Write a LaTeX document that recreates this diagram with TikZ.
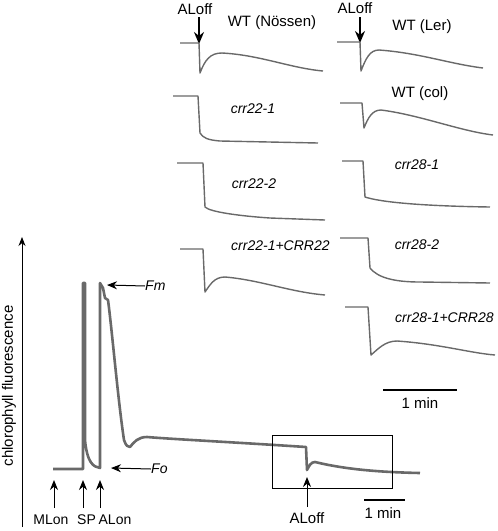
\documentclass[tikz,border=0pt]{standalone}
\usepackage{fontspec}
\setmainfont{Liberation Sans}
\usetikzlibrary{arrows.meta}
\definecolor{tracegray}{RGB}{105,105,105}

\begin{document}
\begin{tikzpicture}[x=1pt,y=1pt,
  every node/.style={inner sep=0pt, font=\fontsize{15}{17}\selectfont},
  it/.style={font=\fontsize{14}{16}\selectfont\itshape},
  small/.style={font=\fontsize{14}{16}\selectfont},
  trace/.style={tracegray, line width=2.6pt, line join=round},
  panel/.style={tracegray, line width=1.4pt, line join=round},
  marker/.style={black, line width=1pt, -{Stealth[length=10pt,width=8pt]}},
  bigmarker/.style={black, line width=1.8pt, -{Stealth[length=12pt,width=10pt]}},
  scalebar/.style={black, line width=2.6pt}]
\useasboundingbox (0,0) rectangle (498,-531);
% axis
\coordinate (axbot) at (22,-527);
\coordinate (axtop) at (22,-237);
\draw [black, line width=0.9pt, -{Stealth[length=9pt,width=7pt]}] (axbot) -- (axtop);
\node (ylab) [rotate=90] at (9,-386) {chlorophyll fluorescence};
% main trace
\draw [trace] (53,-469) -- (83,-469) -- (83,-283) -- (85,-283) -- (85,-440)
  .. controls (87,-462) and (93,-467) .. (100,-468) -- (100,-283) -- (103,-288)
  -- (105,-298) -- (108,-300) .. controls (112,-330) and (118,-400) .. (124,-440)
  .. controls (126,-446) and (128,-447) .. (130,-447)
  .. controls (134,-442) and (138,-437) .. (147,-437)
  .. controls (170,-439) and (230,-442) .. (306,-447) -- (307,-470)
  .. controls (309,-466) and (311,-462) .. (315,-462)
  .. controls (340,-468) and (370,-472) .. (420,-473);
\draw [black, line width=0.8pt] (272,-435) rectangle (392,-488);
% labels under the trace
\node (mlon) [small] at (51,-520) {MLon};
\node (sp) [small] at (86.5,-520) {SP};
\node (alon) [small] at (115,-520) {ALon};
\coordinate (mlontip) at (54,-480);
\coordinate (sptip) at (83,-480);
\coordinate (alontip) at (100,-480);
\draw [marker] (54,-508) -- (mlontip);
\draw [marker] (83,-508) -- (sptip);
\draw [marker] (100,-508) -- (alontip);
\node (fm) [anchor=west, it] at (145,-286) {Fm};
\node (fo) [anchor=west, it] at (151,-469) {Fo};
\coordinate (fmtip) at (107,-285);
\coordinate (fotip) at (111,-468);
\draw [marker] (fm.west) -- (fmtip);
\draw [marker] (fo.west) -- (fotip);
\node (aloffc) at (307,-518) {ALoff};
\coordinate (aloffctip) at (307,-477);
\draw [marker] (307,-507) -- (aloffctip);
\draw [scalebar] (364,-500) -- (405,-500);
\node (minc) at (383,-513) {1 min};
% left column of panels
\node (aloffa) at (195,-9) {ALoff};
\coordinate (alofftipa) at (199,-44);
\draw [bigmarker] (199,-17) -- (alofftipa);
\node (wtn) at (272,-23) {WT (Nössen)};
\draw [panel] (180,-43) -- (199,-43) -- (200,-73)
  .. controls (205,-60) and (210,-53) .. (222,-53)
  .. controls (260,-55) and (290,-68) .. (323,-71);
\node (c221) [it] at (253,-109) {crr22-1};
\draw [panel] (173,-96) -- (198,-96) -- (200,-133)
  .. controls (203,-138) and (208,-140) .. (220,-141) -- (318,-143);
\node (c222) [it] at (254,-184) {crr22-2};
\draw [panel] (177,-163) -- (203,-163) -- (205,-207)
  .. controls (210,-212) and (240,-216) .. (270,-218) -- (325,-220);
\node (c22c) [anchor=west, it] at (231,-246) {crr22-1+CRR22};
\draw [panel] (180,-249) -- (203,-249) -- (205,-292)
  .. controls (210,-285) and (214,-277) .. (225,-277)
  .. controls (260,-280) and (290,-292) .. (325,-295);
% right column of panels
\node (aloffb) at (355,-8) {ALoff};
\coordinate (alofftipb) at (360,-43);
\draw [bigmarker] (360,-17) -- (alofftipb);
\node (wtl) at (422,-27) {WT (Ler)};
\draw [panel] (337,-42) -- (360,-42) -- (361,-71)
  .. controls (366,-58) and (370,-50) .. (379,-50)
  .. controls (420,-53) and (450,-64) .. (483,-68);
\node (wtc) at (420,-94) {WT (col)};
\draw [panel] (340,-103) -- (362,-103) -- (364,-128)
  .. controls (368,-118) and (372,-110) .. (381,-110)
  .. controls (420,-115) and (460,-131) .. (493,-135);
\node (c281) [it] at (417,-165) {crr28-1};
\draw [panel] (342,-161) -- (363,-161) -- (365,-197)
  .. controls (380,-202) and (420,-206) .. (490,-207);
\node (c282) [it] at (417,-245) {crr28-2};
\draw [panel] (340,-238) -- (368,-238) -- (370,-268)
  .. controls (378,-278) and (395,-282) .. (420,-282) -- (490,-283);
\node (c28c) [anchor=west, it] at (395,-318) {crr28-1+CRR28};
\draw [panel] (345,-307) -- (368,-307) -- (371,-355)
  .. controls (378,-349) and (385,-341) .. (397,-341)
  .. controls (440,-344) and (470,-353) .. (495,-355);
\draw [scalebar] (383,-390) -- (457,-390);
\node (mina) at (420,-403) {1 min};
\end{tikzpicture}
\end{document}
